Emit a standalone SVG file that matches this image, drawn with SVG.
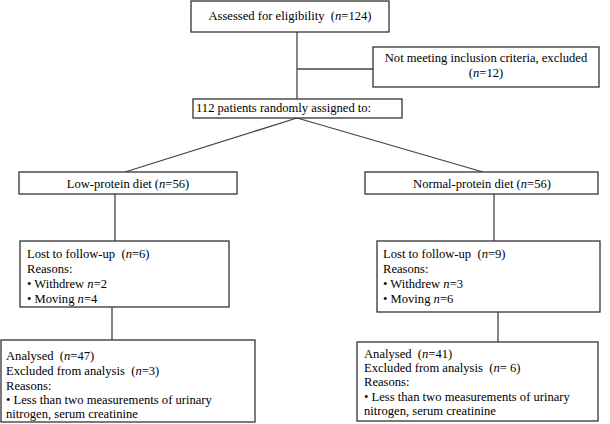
<svg xmlns="http://www.w3.org/2000/svg" width="610" height="424" viewBox="0 0 610 424" font-family="'Liberation Serif', 'Times New Roman', Times, serif">
<style>
.box{fill:#fff;stroke:#333;stroke-width:1.3}
.ln{fill:none;stroke:#444;stroke-width:1.3}
text{font-family:'Liberation Serif','Times New Roman',Times,serif;font-size:12.6px;fill:#000}
.c{text-anchor:middle}
</style>
<rect width="610" height="424" fill="#fff"/>
<g id="connectors">
<line class="ln" x1="297" y1="32" x2="297" y2="99"/>
<line class="ln" x1="297" y1="69" x2="373" y2="69"/>
<line class="ln" x1="297" y1="118" x2="125" y2="172"/>
<line class="ln" x1="297" y1="118" x2="483" y2="172"/>
<line class="ln" x1="115" y1="194" x2="115" y2="241"/>
<line class="ln" x1="494" y1="194" x2="494" y2="241"/>
<line class="ln" x1="112" y1="307" x2="112" y2="340"/>
<line class="ln" x1="498" y1="312" x2="498" y2="342"/>
</g>
<g id="assessed">
<rect class="box" x="191" y="1" width="198" height="31"/>
<text class="c" x="290" y="20">Assessed for eligibility&#160; (<tspan font-style="italic">n</tspan>=124)</text>
</g>
<g id="excluded">
<rect class="box" x="373" y="47" width="226" height="40"/>
<text class="c" x="486" y="62">Not meeting inclusion criteria, excluded</text>
<text class="c" x="486" y="77">(<tspan font-style="italic">n</tspan>=12)</text>
</g>
<g id="randomised">
<rect class="box" x="193" y="99" width="209" height="19"/>
<text x="196" y="112">112 patients randomly assigned to:</text>
</g>
<g id="low">
<rect class="box" x="19" y="172" width="218" height="22"/>
<text class="c" x="128" y="188">Low-protein diet (<tspan font-style="italic">n</tspan>=56)</text>
</g>
<g id="normal">
<rect class="box" x="365" y="172" width="233" height="22"/>
<text class="c" x="482" y="188">Normal-protein diet (<tspan font-style="italic">n</tspan>=56)</text>
</g>
<g id="lost-low">
<rect class="box" x="20" y="241" width="209" height="66"/>
<text x="27" y="258">Lost to follow-up&#160; (<tspan font-style="italic">n</tspan>=6)</text>
<text x="27" y="273">Reasons:</text>
<text x="27" y="288">• Withdrew <tspan font-style="italic">n</tspan>=2</text>
<text x="27" y="303">• Moving <tspan font-style="italic">n</tspan>=4</text>
</g>
<g id="lost-normal">
<rect class="box" x="377" y="241" width="223" height="71"/>
<text x="383" y="258">Lost to follow-up&#160; (<tspan font-style="italic">n</tspan>=9)</text>
<text x="383" y="273">Reasons:</text>
<text x="383" y="288">• Withdrew <tspan font-style="italic">n</tspan>=3</text>
<text x="383" y="303">• Moving <tspan font-style="italic">n</tspan>=6</text>
</g>
<g id="analysed-low">
<rect class="box" x="1" y="340" width="254" height="82"/>
<text x="6" y="360">Analysed&#160; (<tspan font-style="italic">n</tspan>=47)</text>
<text x="6" y="375">Excluded from analysis&#160; (<tspan font-style="italic">n</tspan>=3)</text>
<text x="6" y="390">Reasons:</text>
<text x="6" y="404">• Less than two measurements of urinary</text>
<text x="6" y="418">nitrogen, serum creatinine</text>
</g>
<g id="analysed-normal">
<rect class="box" x="357" y="342" width="241" height="79"/>
<text x="364" y="358">Analysed&#160; (<tspan font-style="italic">n</tspan>=41)</text>
<text x="364" y="372">Excluded from analysis&#160; (<tspan font-style="italic">n</tspan>= 6)</text>
<text x="364" y="386">Reasons:</text>
<text x="364" y="401">• Less than two measurements of urinary</text>
<text x="364" y="415">nitrogen, serum creatinine</text>
</g>
</svg>
